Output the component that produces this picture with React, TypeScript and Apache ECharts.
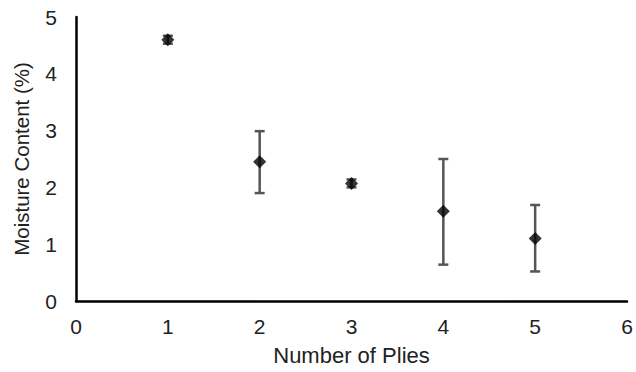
import React, { useEffect, useRef } from "react";
import * as echarts from "echarts";

const plies = [1, 2, 3, 4, 5];
const moisture = [4.6, 2.45, 2.07, 1.58, 1.1];
const errLow = [4.53, 1.9, 2.0, 0.64, 0.52];
const errHigh = [4.67, 2.99, 2.14, 2.5, 1.69];
const xTicks = [0, 1, 2, 3, 4, 5, 6];
const yTicks = [0, 1, 2, 3, 4, 5];

export default function App() {
  const ref = useRef<HTMLDivElement>(null);
  useEffect(() => {
    if (!ref.current) return;
    const chart = echarts.init(ref.current, undefined, { renderer: "svg" });
    const font = "Liberation Sans, Arial, sans-serif";
    chart.setOption({
      animation: false,
      backgroundColor: "#ffffff",
      grid: { left: 76, right: 9, top: 17, bottom: 71, containLabel: false },
      xAxis: {
        type: "value",
        min: xTicks[0],
        max: xTicks[xTicks.length - 1],
        interval: 1,
        name: "Number of Plies",
        nameLocation: "middle",
        nameGap: 43,
        nameTextStyle: { fontFamily: font, fontSize: 22, color: "#222" },
        axisLine: { show: true, lineStyle: { color: "#000", width: 2.5 } },
        axisTick: { show: false },
        splitLine: { show: false },
        axisLabel: { fontFamily: font, fontSize: 21, color: "#222", margin: 15 },
      },
      yAxis: {
        type: "value",
        min: yTicks[0],
        max: yTicks[yTicks.length - 1],
        interval: 1,
        name: "Moisture Content (%)",
        nameLocation: "middle",
        nameGap: 44,
        nameTextStyle: { fontFamily: font, fontSize: 20.5, color: "#222" },
        axisLine: { show: true, lineStyle: { color: "#000", width: 2.5 } },
        axisTick: { show: false },
        splitLine: { show: false },
        axisLabel: { fontFamily: font, fontSize: 21, color: "#222", margin: 19 },
      },
      series: [
        {
          type: "custom",
          z: 1,
          data: plies.map((p, i) => [p, errLow[i], errHigh[i]]),
          renderItem: (params: any, api: any) => {
            const x = api.value(0);
            const lo = api.coord([x, api.value(1)]);
            const hi = api.coord([x, api.value(2)]);
            const hw = 5;
            const style = { stroke: "#555", lineWidth: 2.5 };
            return {
              type: "group",
              children: [
                { type: "line", shape: { x1: lo[0], y1: lo[1], x2: hi[0], y2: hi[1] }, style },
                { type: "line", shape: { x1: lo[0] - hw, y1: lo[1], x2: lo[0] + hw, y2: lo[1] }, style },
                { type: "line", shape: { x1: hi[0] - hw, y1: hi[1], x2: hi[0] + hw, y2: hi[1] }, style },
              ],
            };
          },
        },
        {
          type: "scatter",
          z: 2,
          symbol: "diamond",
          symbolSize: 13,
          itemStyle: { color: "#000" },
          data: plies.map((p, i) => [p, moisture[i]]),
        },
      ],
    });
    return () => chart.dispose();
  }, []);
  return <div ref={ref} style={{ width: 636, height: 372, position: "absolute", left: 0, top: 0 }} />;
}
